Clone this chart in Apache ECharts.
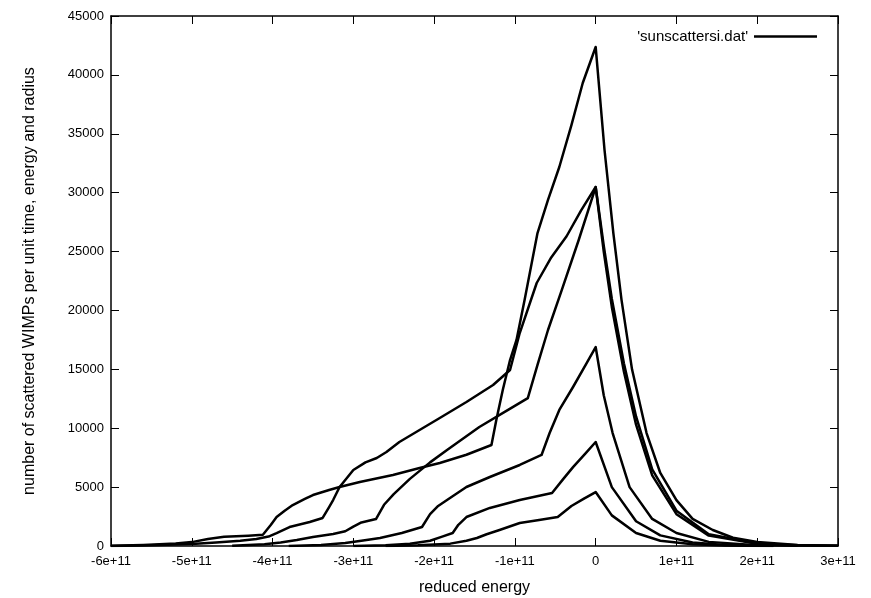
<!DOCTYPE html>
<html>
<head>
<meta charset="utf-8">
<script src="https://cdn.jsdelivr.net/npm/echarts@6/dist/echarts.min.js"></script>
<style>
  html, body { margin: 0; padding: 0; background: #fff; }
  #chart { width: 871px; height: 598px; }
</style>
</head>
<body>
<div id="chart"></div>
<script>
// reduced energy vs number of scattered WIMPs, one block per radius
const curveA = [
  [-6.0e11, 20], [-5.6e11, 90], [-5.2e11, 220], [-5.0e11, 330], [-4.8e11, 600], [-4.6e11, 780],
  [-4.3e11, 880], [-4.12e11, 950], [-4.02e11, 1800], [-3.95e11, 2460], [-3.85e11, 3000],
  [-3.75e11, 3480], [-3.6e11, 4000], [-3.5e11, 4330], [-3.3e11, 4750], [-3.17e11, 5010],
  [-2.92e11, 5430], [-2.51e11, 6030], [-2.18e11, 6620], [-1.93e11, 7050], [-1.6e11, 7750],
  [-1.29e11, 8575], [-1.23e11, 10700], [-1.15e11, 13240], [-1.06e11, 15790], [-0.98e11, 17490],
  [-0.88e11, 20890], [-0.72e11, 26570], [-0.59e11, 29380], [-0.45e11, 32180], [-0.30e11, 35740],
  [-0.16e11, 39310], [0, 42370],
  [0.11e11, 33600], [0.22e11, 26500], [0.32e11, 20900], [0.45e11, 15000], [0.63e11, 9590],
  [0.8e11, 6200], [1.0e11, 3900], [1.2e11, 2300], [1.45e11, 1360], [1.7e11, 700],
  [2.0e11, 340], [2.5e11, 90], [3.0e11, 20]
];
const curveX = [
  [-6.0e11, 10], [-5.5e11, 60], [-5.0e11, 180], [-4.7e11, 300], [-4.4e11, 450], [-4.2e11, 600],
  [-4.05e11, 800], [-3.95e11, 1100], [-3.79e11, 1610], [-3.54e11, 2040], [-3.38e11, 2380],
  [-3.3e11, 3300], [-3.25e11, 3900], [-3.17e11, 5010], [-3.0e11, 6450], [-2.85e11, 7100],
  [-2.71e11, 7470], [-2.59e11, 7980], [-2.43e11, 8830], [-2.18e11, 9850], [-1.93e11, 10870],
  [-1.6e11, 12230], [-1.27e11, 13670], [-1.06e11, 14940],
  [-0.94e11, 18080], [-0.73e11, 22330], [-0.55e11, 24500], [-0.36e11, 26300], [-0.18e11, 28500],
  [0, 30480],
  [0.1e11, 25500], [0.2e11, 21000], [0.35e11, 15500], [0.5e11, 11000], [0.7e11, 6500],
  [1.0e11, 3000], [1.4e11, 1000], [2.0e11, 220], [2.5e11, 60], [3.0e11, 15]
];
const curveY = [
  [-4.5e11, 30], [-4.1e11, 150], [-3.9e11, 300], [-3.7e11, 510], [-3.5e11, 760], [-3.25e11, 1020],
  [-3.1e11, 1250], [-3.0e11, 1650], [-2.9e11, 2000], [-2.72e11, 2290],
  [-2.62e11, 3500], [-2.5e11, 4400], [-2.3e11, 5700], [-2.05e11, 7100], [-1.84e11, 8150],
  [-1.44e11, 10100], [-1.1e11, 11500], [-0.84e11, 12560],
  [-0.72e11, 15370], [-0.59e11, 18340], [-0.42e11, 21730], [-0.21e11, 25980], [0, 30480],
  [0.1e11, 25000], [0.2e11, 20300], [0.35e11, 14800], [0.5e11, 10300], [0.7e11, 6000],
  [1.0e11, 2700], [1.4e11, 880], [2.0e11, 190], [2.5e11, 50], [3.0e11, 12]
];
const curveB = [
  [-3.8e11, 0], [-3.4e11, 80], [-3.1e11, 250], [-2.9e11, 450], [-2.67e11, 680], [-2.4e11, 1100],
  [-2.15e11, 1610], [-2.05e11, 2700], [-1.95e11, 3400], [-1.84e11, 3900], [-1.6e11, 5010],
  [-1.31e11, 5860], [-0.94e11, 6880], [-0.67e11, 7730],
  [-0.57e11, 9590], [-0.45e11, 11550], [-0.28e11, 13500], [-0.11e11, 15540], [0, 16890],
  [0.1e11, 12800], [0.21e11, 9590], [0.42e11, 5000], [0.7e11, 2300], [1.0e11, 1100],
  [1.4e11, 350], [2.0e11, 60], [2.5e11, 15]
];
const curveC = [
  [-3.0e11, 0], [-2.6e11, 60], [-2.3e11, 200], [-2.05e11, 450], [-1.9e11, 800], [-1.77e11, 1100],
  [-1.7e11, 1800], [-1.6e11, 2460], [-1.31e11, 3230], [-0.94e11, 3900], [-0.54e11, 4500],
  [-0.4e11, 5700], [-0.28e11, 6700], [-0.12e11, 7900], [0, 8830],
  [0.2e11, 5000], [0.5e11, 2100], [0.8e11, 900], [1.2e11, 300], [1.6e11, 80], [2.2e11, 15]
];
const curveD = [
  [-2.6e11, 0], [-2.2e11, 60], [-1.8e11, 200], [-1.6e11, 450], [-1.47e11, 680], [-1.35e11, 1000],
  [-1.19e11, 1360], [-0.94e11, 1950], [-0.7e11, 2200], [-0.47e11, 2460],
  [-0.3e11, 3400], [-0.15e11, 4000], [0, 4580],
  [0.2e11, 2600], [0.5e11, 1100], [0.8e11, 450], [1.2e11, 150], [1.6e11, 40], [2.2e11, 8]
];

const curves = [curveA, curveX, curveY, curveB, curveC, curveD];
const seriesName = "'sunscattersi.dat'";
const FONT = "Liberation Sans, Arial, sans-serif";

function energyLabel(v) {
  if (v === 0) return "0";
  const m = Math.round(v / 1e11);
  return m + "e+11";
}

const chart = echarts.init(document.getElementById("chart"));

const tickStyle = { show: true, inside: true, length: 8, lineStyle: { color: "#000", width: 1 } };
const frameLine = { show: true, onZero: false, lineStyle: { color: "#000", width: 1.5 } };

chart.setOption({
  animation: false,
  grid: { left: 111, right: 33, top: 16, bottom: 52, outerBoundsMode: "none" },
  legend: {
    data: [seriesName],
    right: 49,
    top: 24,
    align: "right",
    icon: "rect",
    itemWidth: 63,
    itemHeight: 2.5,
    itemStyle: { color: "#000" },
    textStyle: { fontFamily: FONT, fontSize: 15, color: "#000", padding: [0, 1, 0, 0] }
  },
  xAxis: [
    {
      type: "value",
      min: -6e11,
      max: 3e11,
      interval: 1e11,
      name: "reduced energy",
      nameLocation: "middle",
      nameGap: 34,
      nameTextStyle: { fontFamily: FONT, fontSize: 16, color: "#000" },
      axisLine: frameLine,
      axisTick: tickStyle,
      splitLine: { show: false },
      axisLabel: { formatter: energyLabel, fontFamily: FONT, fontSize: 13, color: "#000", margin: 9 }
    },
    {
      type: "value",
      position: "top",
      min: -6e11,
      max: 3e11,
      interval: 1e11,
      axisLine: frameLine,
      axisTick: tickStyle,
      splitLine: { show: false },
      axisLabel: { show: false }
    }
  ],
  yAxis: [
    {
      type: "value",
      min: 0,
      max: 45000,
      interval: 5000,
      name: "number of scattered WIMPs per unit time, energy and radius",
      nameLocation: "middle",
      nameGap: 73,
      nameTextStyle: { fontFamily: FONT, fontSize: 16, color: "#000" },
      axisLine: frameLine,
      axisTick: tickStyle,
      splitLine: { show: false },
      axisLabel: { formatter: (v) => String(v), fontFamily: FONT, fontSize: 13, color: "#000", margin: 7 }
    },
    {
      type: "value",
      position: "right",
      min: 0,
      max: 45000,
      interval: 5000,
      axisLine: frameLine,
      axisTick: tickStyle,
      splitLine: { show: false },
      axisLabel: { show: false }
    }
  ],
  series: curves.map((points) => ({
    name: seriesName,
    type: "line",
    data: points,
    showSymbol: false,
    symbol: "none",
    smooth: false,
    clip: true,
    lineStyle: { color: "#000", width: 2.5, join: "round" },
    itemStyle: { color: "#000" }
  }))
});
</script>
</body>
</html>
